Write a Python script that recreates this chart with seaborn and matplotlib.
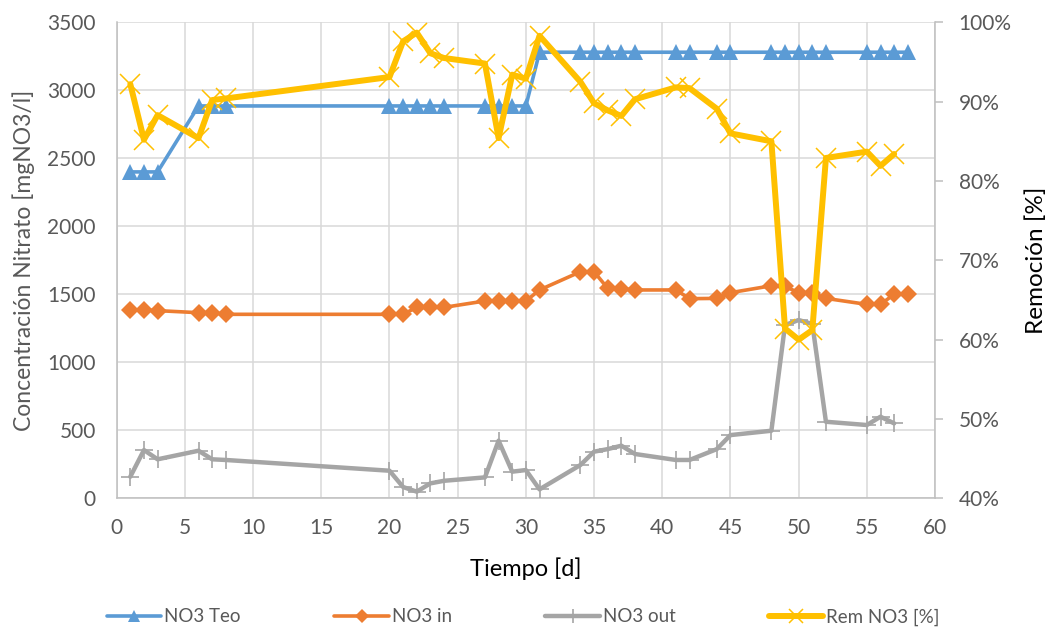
import matplotlib
matplotlib.use("Agg")
import matplotlib.pyplot as plt
import seaborn as sns
import pandas as pd
from matplotlib.ticker import FuncFormatter

# ---- data ----
days = [1, 2, 3, 6, 7, 8, 20, 21, 22, 23, 24, 27, 28, 29, 30, 31, 34, 35, 36, 37, 38,
        41, 42, 44, 45, 48, 49, 50, 51, 52, 55, 56, 57, 58]
no3_teo = [2400, 2400, 2400, 2885, 2885, 2885, 2885, 2885, 2885, 2885, 2885, 2885, 2885,
           2885, 2885, 3280, 3280, 3280, 3280, 3280, 3280, 3280, 3280, 3280, 3280, 3280,
           3280, 3280, 3280, 3280, 3280, 3280, 3280, 3280]
no3_in = [1385, 1385, 1380, 1365, 1365, 1353, 1353, 1353, 1404, 1404, 1404, 1451, 1451,
          1451, 1451, 1532, 1666, 1666, 1544, 1540, 1532, 1532, 1468, 1470, 1512, 1563,
          1558, 1512, 1512, 1470, 1426, 1426, 1500, 1500]
days_out = [1, 2, 3, 6, 7, 8, 20, 21, 22, 23, 24, 27, 28, 29, 30, 31, 34, 35, 36, 37, 38,
            41, 42, 44, 45, 48, 49, 50, 51, 52, 55, 56, 57]
no3_out = [159, 355, 287, 350, 287, 282, 203, 83, 49, 110, 129, 154, 424, 196, 208, 66,
           245, 343, 362, 387, 326, 282, 282, 362, 465, 497, 1274, 1311, 1282, 563, 539,
           600, 551]
rem = [92.2, 85.2, 88.3, 85.4, 90.2, 90.4, 93.1, 97.6, 98.7, 96.1, 95.5, 94.8, 85.4,
       93.4, 92.9, 98.3, 92.5, 89.8, 88.9, 88.2, 90.3, 91.8, 91.7, 89.1, 86.0, 85.0,
       61.4, 60.0, 61.2, 82.9, 83.7, 81.9, 83.4]

df_main = pd.DataFrame({"d": days, "teo": no3_teo, "inn": no3_in})
df_out = pd.DataFrame({"d": days_out, "out": no3_out, "rem": rem})

sns.set_theme(style="white")
plt.rcParams['font.family'] = ['Lato', 'DejaVu Sans']
TXT = "#595959"

fig = plt.figure(figsize=(10.53, 6.3), dpi=100)
ax = fig.add_axes([0.1108, 0.209, 0.7772, 0.7556])
ax2 = ax.twinx()

c_blue, c_orange, c_grey, c_yellow = "#5B9BD5", "#ED7D31", "#A5A5A5", "#FFC000"

sns.lineplot(data=df_main, x="d", y="teo", ax=ax, color=c_blue, lw=2.6,
             marker="^", markersize=12, markeredgewidth=0, label="NO3 Teo", zorder=3)
sns.lineplot(data=df_main, x="d", y="inn", ax=ax, color=c_orange, lw=2.6,
             marker="D", markersize=9.5, markeredgewidth=0, label="NO3 in", zorder=3)
sns.lineplot(data=df_out, x="d", y="out", ax=ax, color=c_grey, lw=3.2,
             marker="+", markersize=13, markeredgewidth=1.2, markeredgecolor=c_grey,
             label="NO3 out", zorder=3)
sns.lineplot(data=df_out, x="d", y="rem", ax=ax2, color=c_yellow, lw=4.3,
             marker="x", markersize=14, markeredgewidth=1.1, markeredgecolor=c_yellow,
             label="Rem NO3 [%]", zorder=4)

ax.set_xlim(0, 60)
ax.set_ylim(0, 3500)
ax2.set_ylim(40, 100)
ax.set_xticks(range(0, 61, 5))
ax.set_yticks(range(0, 3501, 500))
ax2.set_yticks(range(40, 101, 10))
ax2.yaxis.set_major_formatter(FuncFormatter(lambda v, p: f"{int(v)}%"))

ax.grid(True, color="#D9D9D9", lw=1.1)
ax.set_axisbelow(True)
for a in (ax, ax2):
    for s in a.spines.values():
        s.set_visible(False)
ax.spines["left"].set_visible(True)
ax.spines["bottom"].set_visible(True)
ax.spines["left"].set_color("#BFBFBF")
ax.spines["bottom"].set_color("#BFBFBF")
ax2.spines["right"].set_visible(True)
ax2.spines["right"].set_color("#BFBFBF")
ax.spines["left"].set_linewidth(1.1)
ax.spines["bottom"].set_linewidth(1.1)
ax2.spines["right"].set_linewidth(1.1)

ax.tick_params(axis="y", length=0, labelsize=15, labelcolor=TXT, pad=15)
ax.tick_params(axis="x", length=0, labelsize=15, labelcolor=TXT, pad=14)
ax2.tick_params(axis="y", length=6, width=1.1, color="#BFBFBF", labelsize=15,
                labelcolor=TXT, pad=11, direction="out")

ax.set_xlabel("Tiempo [d]", fontsize=17, color="#000000", labelpad=14)
ax.set_ylabel("Concentración Nitrato [mgNO3/l]", fontsize=16.5, color=TXT, labelpad=9)
ax2.set_ylabel("Remoción [%]", fontsize=17.5, color="#000000", labelpad=10)

h1, l1 = ax.get_legend_handles_labels()
h2, l2 = ax2.get_legend_handles_labels()
ax.get_legend().remove()
ax2.get_legend().remove()
fig.legend(h1 + h2, l1 + l2, loc="lower center", bbox_to_anchor=(0.497, -0.02), ncol=4,
           frameon=False, fontsize=13.5, labelcolor=TXT, handlelength=2.9,
           handletextpad=0.15, columnspacing=5.0, numpoints=1, markerscale=0.75)

fig.savefig("out.png", dpi=100)
